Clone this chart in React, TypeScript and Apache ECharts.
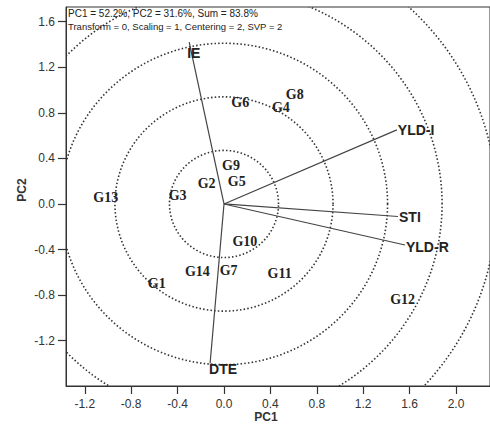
import React, { useEffect, useRef } from "react";
import * as echarts from "echarts";

// Genotype scores (PC1, PC2)
const genotypes = ["G1", "G2", "G3", "G4", "G5", "G6", "G7", "G8", "G9", "G10", "G11", "G12", "G13", "G14"];
const genoPC1 = [-0.58, -0.15, -0.4, 0.49, 0.11, 0.14, 0.04, 0.61, 0.06, 0.18, 0.48, 1.54, -1.02, -0.23];
const genoPC2 = [-0.7, 0.18, 0.07, 0.85, 0.2, 0.89, -0.58, 0.96, 0.335, -0.33, -0.61, -0.84, 0.06, -0.59];

// Trait / environment vectors (PC1, PC2)
const traits = ["YLD-I", "STI", "YLD-R", "IE", "DTE"];
const traitPC1 = [1.49, 1.5, 1.56, -0.3, -0.12];
const traitPC2 = [0.65, -0.11, -0.36, 1.42, -1.4];

// Concentric circle radii
const circleRadii = [0.47, 0.94, 1.41, 1.88, 2.35];

// Tick values
const xTicks = [-1.2, -0.8, -0.4, 0.0, 0.4, 0.8, 1.2, 1.6, 2.0];
const yTicks = [-1.2, -0.8, -0.4, 0.0, 0.4, 0.8, 1.2, 1.6];

const headerLines = [
  "PC1 = 52.2%, PC2 = 31.6%, Sum = 83.8%",
  "Transform = 0, Scaling = 1, Centering = 2, SVP = 2",
];

const SANS = '"Liberation Sans", Arial, sans-serif';
const SERIF = '"Liberation Serif", "Times New Roman", serif';

const labelPlacement: Record<string, { dx: number; dy: number; align: string; va: string }> = {
  "YLD-I": { dx: 1, dy: 0, align: "left", va: "middle" },
  STI: { dx: 1, dy: 0, align: "left", va: "middle" },
  "YLD-R": { dx: 1, dy: 2, align: "left", va: "middle" },
  IE: { dx: -2, dy: 11, align: "left", va: "middle" },
  DTE: { dx: -1, dy: 5, align: "left", va: "middle" },
};

export default function App() {
  const ref = useRef<HTMLDivElement>(null);

  useEffect(() => {
    document.body.style.margin = "0";
    if (!ref.current) return;
    const chart = echarts.init(ref.current, undefined, { renderer: "svg" });

    const option: any = {
      animation: false,
      backgroundColor: "#ffffff",
      grid: {
        left: 66,
        right: 0,
        top: 7,
        bottom: 45,
        show: true,
        borderColor: "#333",
        borderWidth: 1,
        backgroundColor: "transparent",
        outerBoundsMode: "none",
      },
      xAxis: {
        type: "value",
        min: -1.362,
        max: 2.293,
        axisLine: { show: true, onZero: false, lineStyle: { color: "#333", width: 1 } },
        axisTick: { show: true, length: 8, customValues: xTicks, lineStyle: { color: "#333", width: 1.2 } },
        axisLabel: {
          customValues: xTicks,
          formatter: (v: number) => v.toFixed(1),
          fontSize: 12,
          color: "#333",
          fontFamily: SANS,
          margin: 12,
        },
        splitLine: { show: false },
      },
      yAxis: {
        type: "value",
        min: -1.597,
        max: 1.728,
        axisLine: { show: true, onZero: false, lineStyle: { color: "#333", width: 1 } },
        axisTick: { show: true, length: 8, customValues: yTicks, lineStyle: { color: "#333", width: 1.2 } },
        axisLabel: {
          customValues: yTicks,
          formatter: (v: number) => v.toFixed(1),
          fontSize: 12,
          color: "#333",
          fontFamily: SANS,
          margin: 11,
        },
        splitLine: { show: false },
      },
      graphic: [
        {
          type: "text",
          left: 68,
          top: 8,
          z: 100,
          style: { text: headerLines[0], fontSize: 10, fontFamily: SANS, fill: "#222" },
        },
        {
          type: "text",
          left: 68,
          top: 21,
          z: 100,
          style: { text: headerLines[1], fontSize: 9.5, fontFamily: SANS, fill: "#222" },
        },
        {
          type: "text",
          x: 266,
          y: 417,
          style: {
            text: "PC1",
            fontSize: 12,
            fontWeight: "bold",
            fontFamily: SANS,
            fill: "#333",
            align: "center",
            verticalAlign: "middle",
          },
        },
        {
          type: "text",
          x: 22,
          y: 190,
          rotation: Math.PI / 2,
          style: {
            text: "PC2",
            fontSize: 12,
            fontWeight: "bold",
            fontFamily: SANS,
            fill: "#333",
            align: "center",
            verticalAlign: "middle",
          },
        },
      ],
      series: [
        {
          type: "custom",
          clip: true,
          silent: true,
          z: 1,
          data: circleRadii.map((r) => [r, 0]),
          renderItem: (params: any, api: any) => {
            const r = api.value(0);
            const pts: number[][] = [];
            for (let i = 0; i <= 360; i += 1) {
              const a = (i * Math.PI) / 180;
              pts.push(api.coord([r * Math.cos(a), r * Math.sin(a)]));
            }
            return {
              type: "polyline",
              shape: { points: pts },
              style: { fill: "none", stroke: "#333", lineWidth: 1.6, lineDash: [1.5, 2.2] },
            };
          },
        },
        {
          type: "custom",
          clip: false,
          silent: true,
          z: 2,
          data: traits.map((n, i) => [traitPC1[i], traitPC2[i]]),
          renderItem: (params: any, api: any) => {
            const o = api.coord([0, 0]);
            const e = api.coord([api.value(0), api.value(1)]);
            const name = traits[params.dataIndex];
            const pl = labelPlacement[name];
            return {
              type: "group",
              children: [
                {
                  type: "line",
                  shape: { x1: o[0], y1: o[1], x2: e[0], y2: e[1] },
                  style: { stroke: "#444", lineWidth: 1.2 },
                },
                {
                  type: "text",
                  x: e[0] + pl.dx,
                  y: e[1] + pl.dy,
                  style: {
                    text: name,
                    fontSize: 14,
                    fontWeight: "bold",
                    fontFamily: SANS,
                    fill: "#222",
                    align: pl.align,
                    verticalAlign: pl.va,
                  },
                },
              ],
            };
          },
        },
        {
          type: "custom",
          clip: false,
          silent: true,
          z: 3,
          data: genotypes.map((n, i) => [genoPC1[i], genoPC2[i]]),
          renderItem: (params: any, api: any) => {
            const p = api.coord([api.value(0), api.value(1)]);
            return {
              type: "text",
              x: p[0],
              y: p[1],
              style: {
                text: genotypes[params.dataIndex],
                fontSize: 14,
                fontWeight: "bold",
                fontFamily: SERIF,
                fill: "#222",
                align: "center",
                verticalAlign: "middle",
              },
            };
          },
        },
      ],
    };

    chart.setOption(option);
    return () => chart.dispose();
  }, []);

  return (
    <div
      ref={ref}
      style={{ width: 490, height: 431, position: "fixed", left: 0, top: 0, background: "#fff" }}
    />
  );
}
